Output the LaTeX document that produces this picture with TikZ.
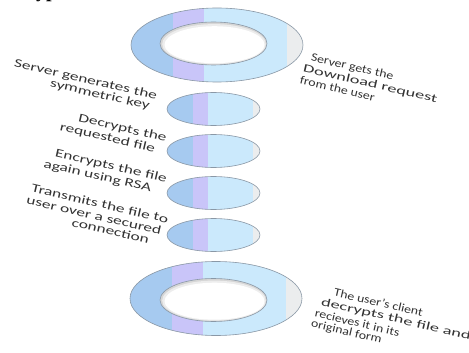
\documentclass[tikz,border=0pt]{standalone}
\usepackage{fontspec}
\setmainfont{Carlito}
\newfontfamily\headfont{Liberation Serif}
\usetikzlibrary{shapes.geometric,calc}
\definecolor{dkb}{HTML}{A6CAF0}
\definecolor{pur}{HTML}{C9C5F9}
\definecolor{ltb}{HTML}{CBE9FC}
\definecolor{gry}{HTML}{EBEDEE}
\definecolor{edge}{HTML}{8A98A6}
\definecolor{txt}{HTML}{333333}
\tikzset{
  stripes/.style n args={3}{path picture={
    \path (path picture bounding box.south west) coordinate (ppa)
          (path picture bounding box.north east) coordinate (ppb);
    \fill[gry] (ppa) rectangle (ppb);
    \fill[dkb] let \p1=(ppa), \p2=(ppb) in (\x1,\y1) rectangle ({\x1+#1*(\x2-\x1)},\y2);
    \fill[pur] let \p1=(ppa), \p2=(ppb) in ({\x1+#1*(\x2-\x1)},\y1) rectangle ({\x1+#2*(\x2-\x1)},\y2);
    \fill[ltb] let \p1=(ppa), \p2=(ppb) in ({\x1+#2*(\x2-\x1)},\y1) rectangle ({\x1+#3*(\x2-\x1)},\y2);
  }},
  ringpart/.style={ellipse, draw=edge, line width=0.6pt, inner sep=0pt},
  bigring/.style={ringpart, minimum width=172pt, minimum height=74pt, stripes={0.244}{0.424}{0.907}},
  hole/.style={ringpart, minimum width=107pt, minimum height=43pt, fill=black!16},
  smallring/.style={ringpart, minimum width=93pt, minimum height=33pt, stripes={0.28}{0.44}{0.925}},
  % text rotated by -13 degrees after a horizontal stretch
  lbl/.style={text=txt, inner sep=0pt},
  llbl/.style={lbl, font=\fontsize{12}{13}\selectfont, anchor=center,
               cm={1.4129,-0.3262,0.2250,0.9744,(0,0)}},
  rlbl/.style={lbl, font=\fontsize{11.5}{12}\selectfont, anchor=west,
               cm={1.1693,-0.2700,0.2250,0.9744,(0,0)}},
  rwide/.style={lbl, font=\fontsize{11.5}{12}\selectfont, anchor=west,
               cm={1.5590,-0.3600,0.2250,0.9744,(0,0)}},
}
\begin{document}
\begin{tikzpicture}[x=1pt,y=-1pt]
\useasboundingbox (0,0) rectangle (469,353);
\fill[white] (0,0) rectangle (469,353);

% fragment of a heading cut off at the top
\node[font=\headfont\bfseries\fontsize{20}{20}\selectfont, anchor=base west, inner sep=0pt] (head) at (36,-2) {ypt};

% top ring
\node[bigring] (r1) at (217,45) {};
\node[hole] (h1) at (213.5,43.5) {};
\fill[black!7] ($(h1.center)+(0.5,0.6)$) ellipse [x radius=51.8, y radius=20];
\fill[white] ($(h1.center)+(1,1.2)$) ellipse [x radius=50, y radius=18.5];

% small ellipses
\node[smallring] (e1) at (213.5,109) {};
\node[smallring] (e2) at (213.5,151) {};
\node[smallring] (e3) at (213.5,193) {};
\node[smallring] (e4) at (213.5,235) {};

% bottom ring
\node[bigring] (r2) at (216,298.5) {};
\node[hole] (h2) at (213.5,300) {};
\fill[black!7] ($(h2.center)+(0.5,0.6)$) ellipse [x radius=51.8, y radius=20];
\fill[white] ($(h2.center)+(1,1.2)$) ellipse [x radius=50, y radius=18.5];

% labels, top right
\node[rlbl] (r1a) at (311,58) {Server gets the};
\node[rwide] (r1b) at (303,68.5) {Download request};
\node[rlbl] (r1c) at (300,80) {from the user};

% labels, left
\node[llbl] (l1a) at (85.5,80) {Server generates the};
\node[llbl] (l1b) at (100,95) {symmetric key};
\node[llbl] (l2a) at (122.5,128.5) {Decrypts the};
\node[llbl] (l2b) at (107.5,138) {requested file};
\node[llbl] (l3a) at (111,166.5) {Encrypts the file};
\node[llbl] (l3b) at (97.5,176.5) {again using RSA};
\node[llbl] (l4a) at (100,203.5) {Transmits the file to};
\node[llbl] (l4b) at (94,215) {user over a secured};
\node[llbl] (l4c) at (110.5,231) {connection};

% labels, bottom right
\node[rlbl] (r2a) at (334,292) {The user's client};
\node[rwide] (r2b) at (321,302) {decrypts the file and};
\node[rlbl] (r2c) at (315,313) {recieves it in its};
\node[rlbl] (r2d) at (311,324) {original form};
\end{tikzpicture}
\end{document}
